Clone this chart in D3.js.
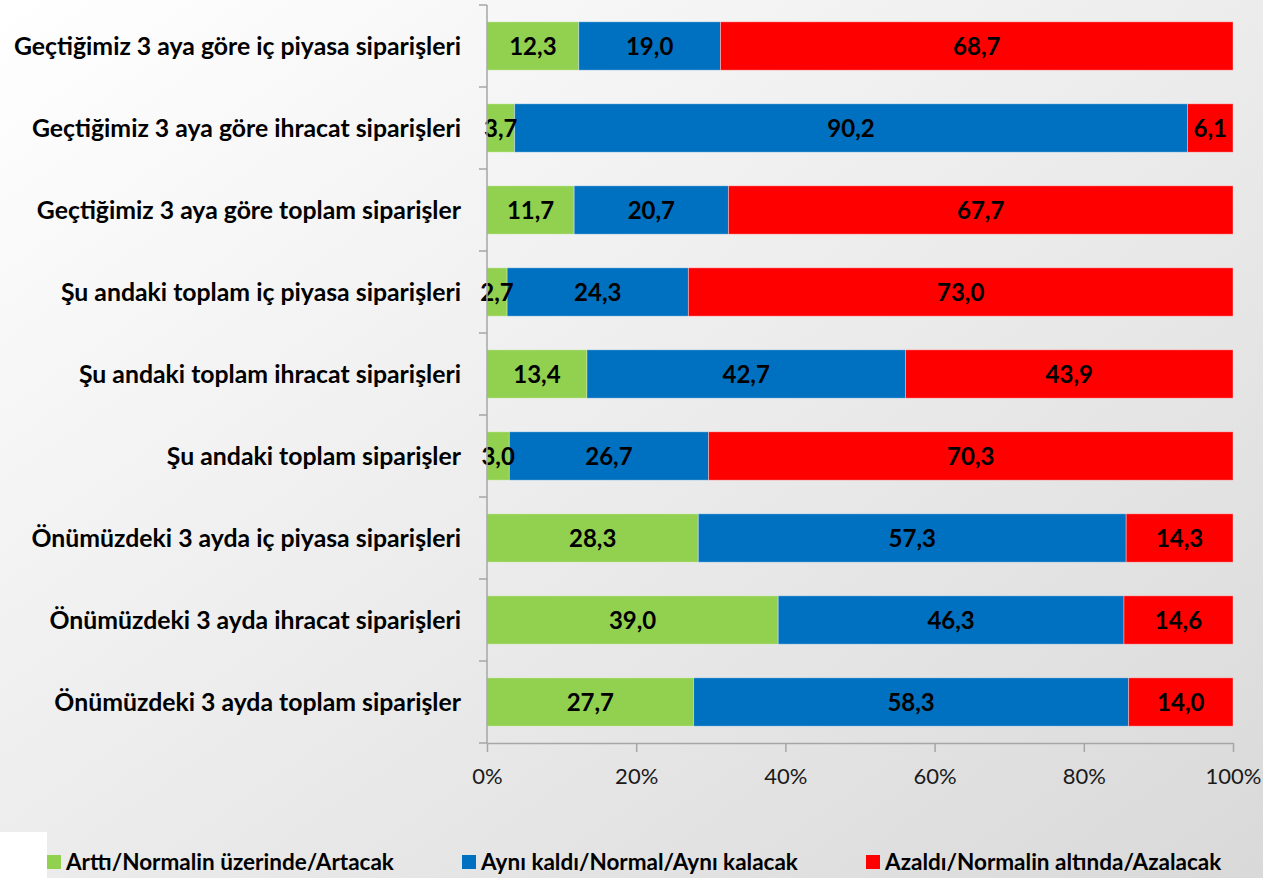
<!DOCTYPE html>
<html><head><meta charset="utf-8">
<script src="https://cdn.jsdelivr.net/npm/d3@7"></script>
<style>html,body{margin:0;padding:0;overflow:hidden;}</style>
</head><body>
<svg id="c" width="1263" height="878"></svg>
<script>
const categories = [
  "Geçtiğimiz 3 aya göre iç piyasa siparişleri",
  "Geçtiğimiz 3 aya göre ihracat siparişleri",
  "Geçtiğimiz 3 aya göre toplam siparişler",
  "Şu andaki toplam iç piyasa siparişleri",
  "Şu andaki toplam ihracat siparişleri",
  "Şu andaki toplam siparişler",
  "Önümüzdeki 3 ayda iç piyasa siparişleri",
  "Önümüzdeki 3 ayda ihracat siparişleri",
  "Önümüzdeki 3 ayda toplam siparişler"
];
const seriesNames = ["Arttı/Normalin üzerinde/Artacak", "Aynı kaldı/Normal/Aynı kalacak", "Azaldı/Normalin altında/Azalacak"];
const increased = [12.3, 3.7, 11.7, 2.7, 13.4, 3.0, 28.3, 39.0, 27.7];
const same      = [19.0, 90.2, 20.7, 24.3, 42.7, 26.7, 57.3, 46.3, 58.3];
const decreased = [68.7, 6.1, 67.7, 73.0, 43.9, 70.3, 14.3, 14.6, 14.0];
const tickValues = [0, 0.2, 0.4, 0.6, 0.8, 1.0];
const colors = ["#92d050", "#0070c0", "#ff0000"];

const FONT = "Lato, 'Open Sans', sans-serif";
const svg = d3.select("#c");
const W = 1263, H = 878;

const defs = svg.append("defs");
const g0 = defs.append("linearGradient").attr("id","bg").attr("x1","0").attr("y1","0").attr("x2","1").attr("y2","1");
g0.append("stop").attr("offset","0").attr("stop-color","#ffffff");
g0.append("stop").attr("offset","1").attr("stop-color","#d9d9d9");
svg.append("rect").attr("width",W).attr("height",H).attr("fill","url(#bg)");
svg.append("rect").attr("x",0).attr("y",832).attr("width",47).attr("height",46).attr("fill","#ffffff");

const x0 = 487, x1 = 1233, y0 = 5, y1 = 743;
const keys = ["a","b","c"];
const rows = categories.map((c,i)=>({cat:c, a:increased[i], b:same[i], c:decreased[i]}));
const stack = d3.stack().keys(keys).offset(d3.stackOffsetExpand)(rows);

const x = d3.scaleLinear().domain([0,1]).range([x0,x1]);
const y = d3.scaleBand().domain(categories).range([y0,y1]).paddingInner(0.41).paddingOuter(0.205);

// bars
const layers = svg.append("g").selectAll("g").data(stack).join("g").attr("fill",(d,i)=>colors[i]);
layers.selectAll("rect").data(d=>d).join("rect")
  .attr("x",d=>x(d[0])).attr("width",d=>x(d[1])-x(d[0]))
  .attr("y",d=>y(d.data.cat)).attr("height",y.bandwidth())
  .attr("stroke","rgba(255,255,255,0.35)").attr("stroke-width",1);

// value labels
const lab = svg.append("g");
stack.forEach((layer,li)=>{
  lab.selectAll(null).data(layer).join("text")
    .attr("x",d=>(x(d[0])+x(d[1]))/2)
    .attr("y",d=>y(d.data.cat)+y.bandwidth()/2)
    .attr("dy","0.36em").attr("text-anchor","middle")
    .attr("font-family",FONT).attr("font-weight","bold").attr("font-size",24)
    .attr("fill","#000")
    .text(d=>d3.format(".1f")(d.data[keys[li]]).replace(".",","));
});

// y axis
const yAxisG = svg.append("g");
yAxisG.append("line").attr("x1",x0).attr("x2",x0).attr("y1",y0).attr("y2",y1).attr("stroke","#a6a6a6").attr("stroke-width",1.5);
const bounds = categories.map(c=>y(c)-y.step()*y.paddingInner()/2).concat([y1]);
yAxisG.selectAll("line.t").data(bounds).join("line").attr("class","t")
  .attr("x1",x0-8).attr("x2",x0).attr("y1",d=>d).attr("y2",d=>d).attr("stroke","#a6a6a6").attr("stroke-width",1.5);
yAxisG.selectAll("text").data(categories).join("text")
  .attr("x",461).attr("y",d=>y(d)+y.bandwidth()/2).attr("dy","0.36em")
  .attr("text-anchor","end").attr("font-family",FONT).attr("font-weight","bold").attr("font-size",24.8)
  .attr("fill","#000").text(d=>d);

// x axis
const xAxisG = svg.append("g").attr("transform",`translate(0,${y1})`)
  .call(d3.axisBottom(x).tickValues(tickValues).tickFormat(d3.format(".0%")).tickSize(9).tickSizeOuter(0));
xAxisG.select(".domain").attr("stroke","#a6a6a6").attr("stroke-width",1.5);
xAxisG.selectAll(".tick line").attr("stroke","#a6a6a6").attr("stroke-width",1.5);
xAxisG.selectAll(".tick text").attr("font-family",FONT).attr("font-size",22).attr("fill","#1a1a1a").attr("dy","1.3em");

// legend
const legX = [47, 462, 866];
const leg = svg.append("g").selectAll("g").data(seriesNames).join("g")
  .attr("transform",(d,i)=>`translate(${legX[i]},855)`);
leg.append("rect").attr("width",14).attr("height",14).attr("fill",(d,i)=>colors[i]);
leg.append("text").attr("x",19).attr("y",7).attr("dy","0.36em")
  .attr("font-family",FONT).attr("font-weight","bold").attr("font-size",22.5).attr("fill","#000").text(d=>d);
</script>
</body></html>
